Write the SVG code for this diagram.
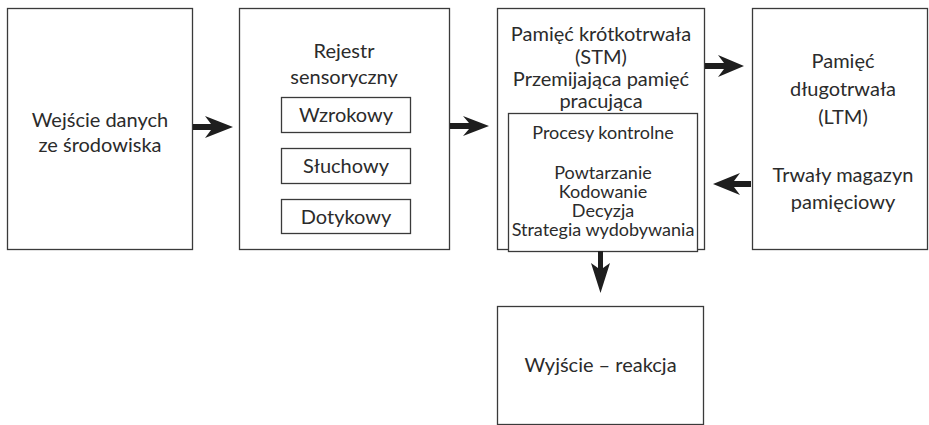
<svg xmlns="http://www.w3.org/2000/svg" width="929" height="425" viewBox="0 0 929 425">
<style>
.box{fill:#fff;stroke:#3a3a3a;stroke-width:1.3}
.t{font-family:Lato,"Noto Sans",sans-serif;font-size:20px;fill:#2b2b2b;text-anchor:middle}
.s{font-size:18px}
.arr{fill:#1e1e1e}
</style>
<rect width="929" height="425" fill="#fff"/>
<g id="input">
<rect class="box" x="7.5" y="8.5" width="185" height="241"/>
<text class="t" x="100" y="127">Wejście danych</text>
<text class="t" x="100" y="152">ze środowiska</text>
</g>
<g id="sensory">
<rect class="box" x="239.5" y="8.5" width="210" height="241"/>
<text class="t" x="344" y="58">Rejestr</text>
<text class="t" x="344" y="84">sensoryczny</text>
<rect class="box" x="281.5" y="97.5" width="129" height="35"/>
<text class="t" x="346" y="122">Wzrokowy</text>
<rect class="box" x="281.5" y="148.5" width="129" height="35"/>
<text class="t" x="346" y="173">Słuchowy</text>
<rect class="box" x="281.5" y="199.5" width="129" height="34"/>
<text class="t" x="346" y="224">Dotykowy</text>
</g>
<g id="stm">
<rect class="box" x="497.5" y="8.5" width="207" height="241"/>
<text class="t" x="601" y="41">Pamięć krótkotrwała</text>
<text class="t" x="601" y="63.5">(STM)</text>
<text class="t" x="601" y="86">Przemijająca pamięć</text>
<text class="t" x="601" y="108">pracująca</text>
<rect class="box" x="508.5" y="113.5" width="189" height="138"/>
<text class="t s" x="603" y="139">Procesy kontrolne</text>
<text class="t s" x="603" y="179">Powtarzanie</text>
<text class="t s" x="603" y="198">Kodowanie</text>
<text class="t s" x="603" y="217">Decyzja</text>
<text class="t s" x="603" y="236">Strategia wydobywania</text>
</g>
<g id="ltm">
<rect class="box" x="752.5" y="8.5" width="175" height="241"/>
<text class="t" x="843" y="68">Pamięć</text>
<text class="t" x="843" y="96">długotrwała</text>
<text class="t" x="843" y="124">(LTM)</text>
<text class="t" x="843" y="182">Trwały magazyn</text>
<text class="t" x="843" y="209">pamięciowy</text>
</g>
<g id="output">
<rect class="box" x="497.5" y="306.5" width="206" height="118"/>
<text class="t" x="600.5" y="372">Wyjście – reakcja</text>
</g>
<g id="connectors">
<path class="arr" d="M193,124 L211,124 L205,116 L233,127 L205,138 L211,130 L193,130 Z"/>
<path class="arr" d="M450,123 L469,123 L463,116 L489,126 L463,136 L469,129 L450,129 Z"/>
<path class="arr" d="M705,63 L724,63 L718,55 L744,66 L718,77 L724,69 L705,69 Z"/>
<path class="arr" d="M751,181 L734,181 L740,173 L713,184 L740,195 L734,187 L751,187 Z"/>
<path class="arr" d="M598,251 L598,268 L591,263 L600.5,293 L610,263 L603,268 L603,251 Z"/>
</g>
</svg>
